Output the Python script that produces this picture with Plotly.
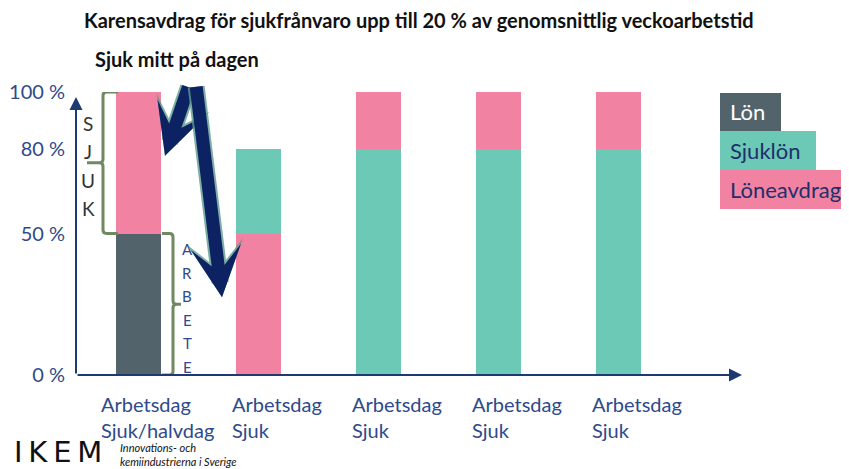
import plotly.graph_objects as go

# ---------------- data ----------------
categories = ["Arbetsdag<br>Sjuk/halvdag", "Arbetsdag<br>Sjuk", "Arbetsdag<br>Sjuk",
              "Arbetsdag<br>Sjuk", "Arbetsdag<br>Sjuk"]
lon = [50, 0, 0, 0, 0]
sjuklon = [0, 30, 80, 80, 80]
loneavdrag = [50, 50, 20, 20, 20]
stack_order = [["Lön", "Löneavdrag"], ["Löneavdrag", "Sjuklön"], ["Sjuklön", "Löneavdrag"],
               ["Sjuklön", "Löneavdrag"], ["Sjuklön", "Löneavdrag"]]
y_tickvals = [0, 50, 80, 100]
y_ticktext = ["0 %", "50 %", "80 %", "100 %"]
series_names = ["Lön", "Sjuklön", "Löneavdrag"]
title_text = "Karensavdrag för sjukfrånvaro upp till 20 % av genomsnittlig veckoarbetstid"
subtitle_text = "Sjuk mitt på dagen"
sjuk_letters = ["S", "J", "U", "K"]
arbete_letters = ["A", "R", "B", "E", "T", "E"]

# ---------------- styling ----------------
VW, VH = 849, 469          # browser window
OFF = 8                    # default page body margin
W, H = VW - OFF, VH - OFF  # figure size
L, R, T, B = 76, 742, 92, 375   # plot area in window pixels
FONT = "Lato"
colors = {"Lön": "#52636C", "Sjuklön": "#6CC9B5", "Löneavdrag": "#F182A2"}
NAVY = "#1F3A73"
TICKBLUE = "#2E4A8B"
BRACE = "#6E8A5E"
ARROW = "#0C2262"
ARROW_GLOW = "#5E9C8E"

series = {"Lön": lon, "Sjuklön": sjuklon, "Löneavdrag": loneavdrag}
xs = list(range(len(categories)))

# bases from stacking order
bases = {n: [0] * len(xs) for n in series_names}
for i, order in enumerate(stack_order):
    acc = 0
    for n in order:
        bases[n][i] = acc
        acc += series[n][i]

PX_PER_CAT = 120.0
X0_PX = 138.0
x_range = [(L - X0_PX) / PX_PER_CAT, (R - X0_PX) / PX_PER_CAT]


def dx(px):
    return (px - X0_PX) / PX_PER_CAT


def px_x(px):
    return (px - L) / (R - L)


def px_y(py):
    return (B - py) / (B - T)


fig = go.Figure()
for n in series_names:
    fig.add_trace(go.Bar(x=xs, y=series[n], base=bases[n], width=0.375,
                         marker=dict(color=colors[n], line=dict(width=0)),
                         name=n, showlegend=False, hoverinfo="skip"))

annotations = []
shapes = []

# axis arrows
annotations.append(dict(xref="paper", yref="paper", x=0, y=px_y(97), ax=0, ay=278,
                        axref="pixel", ayref="pixel", text="", showarrow=True,
                        arrowhead=2, arrowsize=1.3, arrowwidth=2, arrowcolor=NAVY))
annotations.append(dict(xref="paper", yref="paper", x=1, y=0, ax=-666, ay=0,
                        text="", showarrow=True, arrowhead=2, arrowsize=1.3,
                        arrowwidth=2, arrowcolor=NAVY))

# category labels
for i, c in enumerate(categories):
    annotations.append(dict(xref="x", yref="paper", x=xs[i], y=px_y(417), xshift=19,
                            text=c, showarrow=False, align="left", xanchor="center",
                            yanchor="middle",
                            font=dict(family=FONT, size=20, color=TICKBLUE)))

# titles
annotations.append(dict(xref="paper", yref="paper", x=px_x(82), y=px_y(20), xanchor="left",
                        yanchor="middle", showarrow=False, text="<b>" + title_text + "</b>",
                        font=dict(family=FONT, size=20, color="#111111")))
annotations.append(dict(xref="paper", yref="paper", x=px_x(93), y=px_y(59), xanchor="left",
                        yanchor="middle", showarrow=False, text="<b>" + subtitle_text + "</b>",
                        font=dict(family=FONT, size=20, color="#111111")))

# legend boxes
legend_boxes = {"Lön": (720, 93, 781, 131), "Sjuklön": (720, 131, 816, 170),
                "Löneavdrag": (720, 170, 849, 209)}
legend_text_col = {"Lön": "#FFFFFF", "Sjuklön": "#1F2F6B", "Löneavdrag": "#1F2F6B"}
for n in series_names:
    x1, y1, x2, y2 = legend_boxes[n]
    shapes.append(dict(type="rect", xref="paper", yref="paper", x0=px_x(x1), x1=px_x(x2),
                       y0=px_y(y2), y1=px_y(y1), fillcolor=colors[n], line=dict(width=0),
                       layer="above"))
    annotations.append(dict(xref="paper", yref="paper", x=px_x(x1 + 8), y=px_y((y1 + y2) / 2),
                            xanchor="left", yanchor="middle", showarrow=False, text=n,
                            font=dict(family=FONT, size=22, color=legend_text_col[n])))

# braces (data y, pixel-derived x)
d = 1.2
lx_edge, lx_v, lx_tip = dx(118), dx(103), dx(87)
cx = 0.03
path_left = (f"M {lx_edge},100 L {lx_v + cx},100 Q {lx_v},100 {lx_v},{100 - d} "
             f"L {lx_v},{75 + d} Q {lx_v},75 {lx_v - cx},75 L {lx_tip},75 "
             f"M {lx_v - cx},75 Q {lx_v},75 {lx_v},{75 - d} "
             f"L {lx_v},{50 + d} Q {lx_v},50 {lx_v + cx},50 L {lx_edge},50")
rx_edge, rx_v, rx_tip = dx(162), dx(173), dx(181)
path_right = (f"M {rx_edge},50 L {rx_v - cx},50 Q {rx_v},50 {rx_v},{50 - d} "
              f"L {rx_v},{25 + d} Q {rx_v},25 {rx_v + cx},25 L {rx_tip},25 "
              f"M {rx_v + cx},25 Q {rx_v},25 {rx_v},{25 - d} "
              f"L {rx_v},{0 + d} Q {rx_v},0 {rx_v - cx},0 L {rx_edge},0")
for p in (path_left, path_right):
    shapes.append(dict(type="path", xref="x", yref="y", path=p,
                       line=dict(color=BRACE, width=3), layer="above"))

# SJUK letters
for k, ch in enumerate(sjuk_letters):
    annotations.append(dict(xref="x", yref="y", x=dx(88), y=89 - k * 10.1, text=ch,
                            showarrow=False, xanchor="center", yanchor="middle",
                            font=dict(family=FONT, size=19, color="#333333")))
# ARBETE letters
for k, ch in enumerate(arbete_letters):
    annotations.append(dict(xref="x", yref="y", x=dx(187), y=44.5 - k * 8.3, text=ch,
                            showarrow=False, xanchor="center", yanchor="middle",
                            font=dict(family=FONT, size=15, color=TICKBLUE)))

# big arrows (glow + body)
big_arrows = [(dx(165), 77.5, 24, -70), (dx(222), 27.5, -26, -212)]
for (tx, ty, ax, ay) in big_arrows:
    annotations.append(dict(xref="x", yref="y", x=tx, y=ty, ax=ax, ay=ay, text="",
                            showarrow=True, arrowhead=3, arrowsize=0.55, arrowwidth=17,
                            arrowcolor=ARROW_GLOW, opacity=0.8))
    annotations.append(dict(xref="x", yref="y", x=tx, y=ty, ax=ax, ay=ay, text="",
                            showarrow=True, arrowhead=3, arrowsize=0.65, arrowwidth=13,
                            arrowcolor=ARROW))

# logo
annotations.append(dict(xref="paper", yref="paper", x=px_x(12), y=px_y(452), xanchor="left",
                        yanchor="middle", showarrow=False, text="I\u2009K\u2009E\u2009M",
                        font=dict(family="DejaVu Sans", size=29, color="#111111")))
annotations.append(dict(xref="paper", yref="paper", x=px_x(118), y=px_y(454), xanchor="left",
                        yanchor="middle", showarrow=False, align="left",
                        text="<i>Innovations- och<br>kemiindustrierna i Sverige</i>",
                        font=dict(family=FONT, size=11, color="#111111")))

fig.update_layout(
    width=W, height=H,
    margin=dict(l=L - OFF, r=VW - R, t=T - OFF, b=VH - B, pad=0, autoexpand=False),
    paper_bgcolor="white", plot_bgcolor="white",
    barmode="overlay", bargap=0,
    xaxis=dict(range=x_range, showticklabels=False, showgrid=False, zeroline=False,
               showline=False, ticks="", fixedrange=True, automargin=False),
    yaxis=dict(range=[0, 100], tickvals=y_tickvals, ticktext=y_ticktext,
               showgrid=False, zeroline=False, showline=False, ticks="outside",
               ticklen=6, tickcolor="rgba(0,0,0,0)", automargin=False,
               tickfont=dict(family=FONT, size=20, color=TICKBLUE), fixedrange=True),
    annotations=annotations, shapes=shapes, showlegend=False,
)

fig.write_html("out.html")
